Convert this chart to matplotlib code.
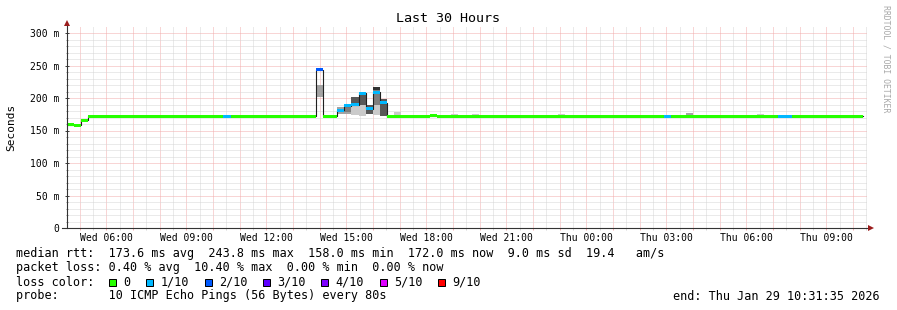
import numpy as np
import matplotlib
matplotlib.use("Agg")
import matplotlib.pyplot as plt
import matplotlib.dates as mdates
from matplotlib.ticker import MultipleLocator, FuncFormatter
from matplotlib.patches import Rectangle
from datetime import datetime, timedelta

# ---------------- data ----------------
end_time = datetime(2026, 1, 29, 10, 31, 35)
span_hours = 30
bin_minutes = 16

# median rtt per 16-minute bin (ms)
median_ms = [
    159.0, 158.0, 166.0, 172.0, 172.0, 172.0, 172.0, 172.0,
    172.0, 172.0, 172.0, 172.0, 172.0, 172.0, 172.0, 172.0,
    172.0, 172.0, 172.0, 172.0, 172.0, 172.0, 172.0, 172.0,
    172.0, 172.0, 172.0, 172.0, 172.0, 172.0, 172.0, 172.0,
    172.0, 172.0, 172.0, 243.8, 172.0, 172.0, 181.5, 188.0,
    189.5, 207.0, 183.5, 209.0, 193.0, 172.0, 172.0, 172.0,
    172.0, 172.0, 172.0, 173.0, 172.0, 172.0, 172.0, 172.0,
    172.0, 172.0, 172.0, 172.0, 172.0, 172.0, 172.0, 172.0,
    172.0, 172.0, 172.0, 172.0, 172.0, 172.0, 172.0, 172.0,
    172.0, 172.0, 172.0, 172.0, 172.0, 172.0, 172.0, 172.0,
    172.0, 172.0, 172.0, 172.0, 172.0, 172.0, 172.0, 172.0,
    172.0, 172.0, 172.0, 172.0, 172.0, 172.0, 172.0, 172.0,
    172.0, 172.0, 172.0, 172.0, 172.0, 172.0, 172.0, 172.0,
    172.0, 172.0, 172.0, 172.0, 172.0, 172.0, 172.0, 172.0,
]

# packet loss per bin (%)
loss_pct = [0.0] * 22 + [2.5] + [0.0] * 12 + [10.4, 0.0, 0.0,
            5.0, 2.5, 5.0, 2.5, 5.0, 2.5, 2.5] + [0.0] * 39 + [2.5] + \
           [0.0] * 15 + [2.5, 2.5] + [0.0] * 10

# smoke: sorted ping times (ms) for bins with visible spread (nan = lost)
nan = float("nan")
smoke_bins = [35, 38, 39, 40, 41, 42, 43, 44, 46, 54, 57, 69, 87, 97]
smoke_pings = [
    [nan, 201, 211, 211, 211, 211, 211, 211, 220, nan],
    [nan, 176, 181, 181, 181, 181, 181, 181, 186, nan],
    [nan, 175, 178, 186, 186, 186, 186, 186, 190, nan],
    [174, 188, 191, 191, 196, 196, 202, 202, 202, 202],
    [173, 189, 189, 189, 197, 197, 205, 205, 205, 205],
    [nan, 176, 176, 176, 183, 183, 189, 189, 189, nan],
    [174, 189, 189, 212, 212, 217, 217, 217, 217, 217],
    [nan, 173, 173, 173, 186, 186, 199, 199, 199, nan],
    [172, 172, 172, 172, 172, 172, 172, 172, 172, 179],
    [172, 172, 172, 172, 172, 172, 172, 172, 172, 175],
    [172, 172, 172, 172, 172, 172, 172, 172, 172, 175],
    [172, 172, 172, 172, 172, 172, 172, 172, 172, 175],
    [172, 172, 172, 172, 172, 172, 172, 172, 177, 177],
    [172, 172, 172, 172, 172, 172, 172, 172, 172, 175],
]

loss_labels = ["0", "1/10", "2/10", "3/10", "4/10", "5/10", "9/10"]
loss_limits = [0, 1, 2, 3, 4, 5, 9]          # lost pings (of 10), upper bound
loss_colors = ["#26ff00", "#00b8ff", "#0059ff", "#5e00ff", "#7e00ff", "#dd00ff", "#ff0000"]

stat_lines = [
    "median rtt:  173.6 ms avg  243.8 ms max  158.0 ms min  172.0 ms now  9.0 ms sd  19.4   am/s",
    "packet loss: 0.40 % avg  10.40 % max  0.00 % min  0.00 % now",
]
probe_line = "probe:       10 ICMP Echo Pings (56 Bytes) every 80s"
title = "Last 30 Hours"

# ---------------- figure ----------------
W, H = 897, 310
plt.rcParams["font.family"] = ["DejaVu Sans Mono"]
fig = plt.figure(figsize=(W / 100, H / 100), dpi=100)
fig.patch.set_facecolor("white")

def fx(px):
    return px / W

def fy(py):
    return 1 - py / H

ax = fig.add_axes([fx(67), fy(228), 800 / W, 201 / H])
for s in ax.spines.values():
    s.set_visible(False)

start_time = end_time - timedelta(hours=span_hours)
x0 = mdates.date2num(start_time)
x1 = mdates.date2num(end_time)
ax.set_xlim(x0, x1)
ax.set_ylim(0, 201 / 0.65)

n = len(median_ms)
bw = bin_minutes / 1440.0
xl = np.array([mdates.date2num(start_time + timedelta(minutes=bin_minutes * k)) for k in range(n)])
med = np.array(median_ms)

# grid
red = "#f2adad"
gray = "#d6d6d6"
ax.set_axisbelow(True)
ax.xaxis.set_major_locator(mdates.HourLocator(interval=1))
ax.xaxis.set_minor_locator(mdates.MinuteLocator(byminute=[30]))
ax.xaxis.set_major_formatter(FuncFormatter(
    lambda v, p: mdates.num2date(v).strftime("%a %H:%M") if mdates.num2date(v).hour % 3 == 0 else ""))
ax.yaxis.set_major_locator(MultipleLocator(50))
ax.yaxis.set_minor_locator(MultipleLocator(10))
ax.yaxis.set_major_formatter(FuncFormatter(lambda v, p: "0" if v == 0 else f"{int(v)} m"))
ax.grid(which="major", color=red, linestyle=(0, (1, 1)), linewidth=0.72)
ax.grid(which="minor", color=gray, linestyle=(0, (1, 1)), linewidth=0.72)

ax.tick_params(axis="x", which="major", direction="out", length=1.6, width=0.72,
               color=red, labelsize=7, pad=2.2, labelcolor="black")
ax.tick_params(axis="x", which="minor", direction="out", length=1.6, width=0.72, color=gray)
ax.tick_params(axis="y", which="major", direction="inout", length=3.2, width=0.72,
               color="#404040", labelsize=7, pad=4.0, labelcolor="black")
ax.tick_params(axis="y", which="minor", direction="inout", length=1.5, width=0.72, color="#909090")

# smoke
gray_shades = ["#%02x%02x%02x" % ((int(190 / 5 * (5 - i)) + 50,) * 3) for i in range(1, 6)]
for b, pings in zip(smoke_bins, smoke_pings):
    for i in range(5):
        lo, hi = pings[i], pings[9 - i]
        if np.isnan(lo) or np.isnan(hi) or hi <= lo:
            continue
        ax.bar(xl[b], hi - lo, width=bw, bottom=lo, align="edge",
               color=gray_shades[i], linewidth=0, zorder=2)

# median line
xs = np.append(xl, xl[-1] + bw)
ys = np.append(med, med[-1])
ax.step(xs, ys, where="post", color="#202020", linewidth=0.8, zorder=3)

# loss coloured median band
def loss_color(p):
    lost = p / 10.0
    prev = -1
    for lim, c in zip(loss_limits, loss_colors):
        if prev < lost <= lim:
            return c
        prev = lim
    return loss_colors[-1]

hw = 2.3
ax.bar(xl, 2 * hw, width=bw, bottom=med - hw, align="edge",
       color=[loss_color(p) for p in loss_pct], linewidth=0, zorder=4)

# axes lines with arrows
axc = "#333333"
ax.plot([0, 0], [0, (228 - 25) / 201], transform=ax.transAxes, color=axc,
        lw=0.8, clip_on=False, zorder=6)
ax.plot([-5 / 800, (869 - 67) / 800], [0, 0], transform=ax.transAxes, color=axc,
        lw=0.8, clip_on=False, zorder=6)
arrow_c = "#9b1c1c"
ax.plot([0], [(228 - 23) / 201], marker="^", markersize=4.2, color=arrow_c,
        transform=ax.transAxes, clip_on=False, zorder=7, markeredgewidth=0)
ax.plot([(871 - 67) / 800], [0], marker=">", markersize=4.2, color=arrow_c,
        transform=ax.transAxes, clip_on=False, zorder=7, markeredgewidth=0)

# texts
fig.text(fx(448), fy(19), title, ha="center", va="center", fontsize=9.6)
fig.text(fx(11), fy(127), "Seconds", ha="center", va="center", rotation=90, fontsize=8)
fig.text(fx(886), fy(5), "RRDTOOL / TOBI OETIKER", ha="center", va="top",
         rotation=270, fontsize=5.9, color="#a8a8a8")

fs = 8.5
fig.text(fx(16), fy(257.5), stat_lines[0], ha="left", va="baseline", fontsize=fs)
fig.text(fx(16), fy(271.5), stat_lines[1], ha="left", va="baseline", fontsize=fs)

fig.text(fx(16), fy(285.5), "loss color:", ha="left", va="baseline", fontsize=fs)
bx = 109.0
for lab, c in zip(loss_labels, loss_colors):
    fig.patches.append(Rectangle((fx(bx), fy(286)), 7 / W, 7 / H, transform=fig.transFigure,
                                 facecolor=c, edgecolor="black", linewidth=0.72))
    fig.text(fx(bx + 14.5), fy(285.5), lab, ha="left", va="baseline", fontsize=fs)
    bx += 14.5 + 7.1 * len(lab) + 15.5

fig.text(fx(16), fy(299.5), probe_line, ha="left", va="baseline", fontsize=fs)
fig.text(fx(880), fy(299.5), "end: " + end_time.strftime("%a %b %d %H:%M:%S %Y"),
         ha="right", va="baseline", fontsize=fs)

fig.savefig("out.png", dpi=100, facecolor="white")
